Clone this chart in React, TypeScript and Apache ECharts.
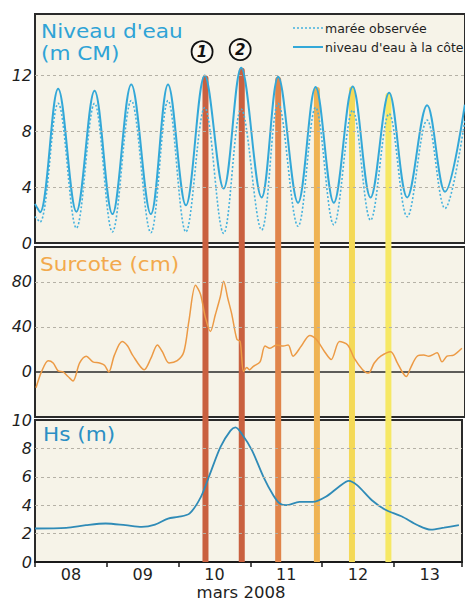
import React, { useEffect, useRef } from 'react';
import * as echarts from 'echarts';

// ---------- data (x in days since 08 March 2008 00:00) ----------
const DAY_LABELS = ['08', '09', '10', '11', '12', '13'];
const X_TITLE = 'mars 2008';

const TIDE_DAYS = [0, 0.069, 0.32, 0.573, 0.824, 1.071, 1.332, 1.603, 1.841, 2.088, 2.349, 2.61, 2.853, 3.136, 3.365, 3.64, 3.883, 4.135, 4.396, 4.643, 4.9, 5.151, 5.426, 5.673, 5.948];
const COAST_LEVEL = [2.8, 2.2, 11.05, 2.24, 10.9, 2.07, 11.36, 2.07, 11.36, 2.7, 12.0, 3.9, 12.55, 3.26, 11.9, 2.88, 11.17, 2.88, 11.2, 3.26, 10.76, 3.26, 9.86, 3.67, 9.9];
const OBSERVED_TIDE = [1.9, 1.5, 10.0, 1.07, 10.0, 0.8, 10.2, 0.74, 10.2, 0.8, 9.7, 0.69, 9.6, 0.93, 10.0, 1.2, 9.7, 1.3, 9.5, 1.64, 9.26, 1.88, 8.8, 2.48, 8.8];

const SURGE_DAYS = [0.014, 0.092, 0.183, 0.251, 0.32, 0.389, 0.457, 0.526, 0.618, 0.71, 0.801, 0.893, 0.962, 1.021, 1.099, 1.205, 1.282, 1.35, 1.511, 1.603, 1.694, 1.762, 1.854, 1.968, 2.06, 2.129, 2.221, 2.29, 2.359, 2.427, 2.496, 2.565, 2.61, 2.669, 2.724, 2.793, 2.839, 2.885, 2.93, 2.967, 3.022, 3.114, 3.183, 3.251, 3.342, 3.434, 3.503, 3.571, 3.685, 3.801, 3.891, 4.007, 4.098, 4.213, 4.327, 4.419, 4.533, 4.615, 4.694, 4.784, 4.922, 5.014, 5.082, 5.137, 5.196, 5.288, 5.38, 5.449, 5.563, 5.632, 5.701, 5.793, 5.907];
const SURGE_CM = [-14, 0.5, 10, 8, 1, 0, -4, -8, 8, 14, 9, 8, 6, 0, 15, 27, 23, 15, 2, 12, 24, 18, 8, 10, 18, 45, 77, 69, 48, 36, 51, 67, 80.5, 65, 51, 29, 27, 0.5, 4, 2, 5, 9, 23, 21, 24, 23, 24, 14, 23, 32.5, 29, 18, 11, 27, 24, 12, 2, -1, 8, 14, 18, 8, 0, -4, 3.5, 14, 15, 14, 17, 9, 14, 15, 21];

const HS_DAYS = [0, 0.435, 0.71, 0.985, 1.26, 1.488, 1.672, 1.854, 1.992, 2.152, 2.312, 2.449, 2.587, 2.724, 2.793, 2.885, 3.022, 3.183, 3.32, 3.411, 3.503, 3.685, 3.87, 4.052, 4.235, 4.372, 4.488, 4.694, 4.876, 5.106, 5.334, 5.518, 5.701, 5.907];
const HS_M = [2.36, 2.4, 2.59, 2.71, 2.59, 2.47, 2.63, 3.06, 3.18, 3.41, 4.59, 6.35, 8.12, 9.25, 9.48, 9.0, 7.88, 6.0, 4.7, 4.12, 4.0, 4.23, 4.23, 4.59, 5.3, 5.72, 5.41, 4.35, 3.7, 3.22, 2.59, 2.28, 2.42, 2.59];

const STORM_DAYS = [2.359, 2.861, 3.365, 3.901, 4.386, 4.89];
const STORM_PEAK = [12.0, 12.55, 11.9, 11.17, 11.2, 10.76];
const STORM_COLORS = ['#c9603f', '#c9603f', '#e0844a', '#efb353', '#f4d957', '#f6e865'];

const MARKER_DAYS = [2.312, 2.839];
const MARKER_LEVEL = [13.7, 13.85];
const MARKER_LABELS = ['1', '2'];

const TOP_TICKS = [0, 4, 8, 12];
const MID_TICKS = [0, 40, 80];
const BOT_TICKS = [0, 2, 4, 6, 8, 10];
const TOP_GRID = [4, 8, 12];
const MID_GRID = [40, 80];
const BOT_GRID = [2, 4, 6, 8];

const TITLE_TIDE = ["Niveau d'eau", '(m CM)'];
const TITLE_SURGE = 'Surcote (cm)';
const TITLE_HS = 'Hs (m)';
const NAME_OBS = 'marée observée';
const NAME_COAST = "niveau d'eau à la côte";

// ---------- layout ----------
const W = 465;
const H = 601;
const LEFT = 35;
const RIGHT = -3;
const GRIDS = [
  { top: 14, height: 229 },
  { top: 247, height: 170 },
  { top: 420, height: 142 },
];
const XMAX = 5.95;
const FONT = "'DejaVu Sans', sans-serif";
const PANEL_BG = '#f6f3e8';
const INK = '#1e1e1e';
const OBS_COLOR = '#45b2de';
const COAST_COLOR = '#33a8d8';

const pair = (xs: number[], ys: number[]) => xs.map((x, i) => [x, ys[i]]);

function gridLineSeries(idx: number, values: number[]) {
  return {
    type: 'line',
    xAxisIndex: idx,
    yAxisIndex: idx,
    data: [],
    z: 1,
    silent: true,
    markLine: {
      symbol: ['none', 'none'],
      silent: true,
      label: { show: false },
      lineStyle: { type: [3, 3], color: '#b5b1a6', width: 1 },
      data: values.map((v) => ({ yAxis: v })),
    },
  };
}

function buildOption() {
  const yLabel = (ticks: number[]) => ({
    margin: 3,
    fontFamily: FONT,
    fontSize: 16,
    fontStyle: 'italic',
    color: INK,
    formatter: (v: number) => (ticks.indexOf(v) >= 0 ? String(v) : ''),
  });
  const hiddenX = (idx: number, extra: any = {}) => ({
    type: 'value',
    gridIndex: idx,
    position: 'bottom',
    min: 0,
    max: XMAX,
    axisLine: { show: false },
    axisTick: { show: false },
    axisLabel: { show: false },
    splitLine: { show: false },
    ...extra,
  });
  const bottomY = GRIDS[2].top + GRIDS[2].height;

  return {
    animation: false,
    backgroundColor: '#ffffff',
    grid: GRIDS.map((g) => ({
      left: LEFT,
      right: RIGHT,
      top: g.top,
      height: g.height,
      show: true,
      backgroundColor: PANEL_BG,
      borderColor: '#2a2a2a',
      borderWidth: 2,
    })),
    xAxis: [
      hiddenX(0),
      hiddenX(1, { axisLine: { show: true, onZero: true, lineStyle: { color: '#2a2a2a', width: 1.5 } } }),
      hiddenX(2, {
        interval: 1,
        axisLine: { show: true, onZero: false, lineStyle: { color: '#1a1a1a', width: 2 } },
        axisTick: { show: true, inside: false, length: 5, lineStyle: { color: '#1a1a1a', width: 1.5 } },
      }),
      hiddenX(2, {
        interval: 0.5,
        axisLabel: {
          show: true,
          margin: 4,
          fontFamily: FONT,
          fontSize: 16,
          color: INK,
          showMinLabel: true,
          showMaxLabel: true,
          formatter: (v: number) => {
            const f = Math.floor(v);
            return Math.abs(v - f - 0.5) < 1e-6 && DAY_LABELS[f] ? DAY_LABELS[f] : '';
          },
        },
      }),
    ],
    yAxis: [
      {
        type: 'value', gridIndex: 0, min: 0, max: 16.4, interval: 4,
        axisLine: { show: true, lineStyle: { color: '#2a2a2a', width: 2 } },
        axisTick: { show: false }, splitLine: { show: false },
        axisLabel: yLabel(TOP_TICKS),
      },
      {
        type: 'value', gridIndex: 1, min: -40, max: 111, interval: 40,
        axisLine: { show: true, lineStyle: { color: '#2a2a2a', width: 2 } },
        axisTick: { show: false }, splitLine: { show: false },
        axisLabel: yLabel(MID_TICKS),
      },
      {
        type: 'value', gridIndex: 2, min: 0, max: 10, interval: 2,
        axisLine: { show: true, lineStyle: { color: '#2a2a2a', width: 2 } },
        axisTick: { show: false }, splitLine: { show: false },
        axisLabel: yLabel(BOT_TICKS),
      },
    ],
    series: [
      gridLineSeries(0, TOP_GRID),
      gridLineSeries(1, MID_GRID),
      gridLineSeries(2, BOT_GRID),
      {
        type: 'custom',
        xAxisIndex: 0,
        yAxisIndex: 0,
        z: 2,
        silent: true,
        clip: false,
        data: STORM_DAYS.map((d, i) => [d, STORM_PEAK[i], i]),
        renderItem: (_params: any, api: any) => {
          const top = api.coord([api.value(0), api.value(1)]);
          const w = 6;
          return {
            type: 'rect',
            shape: { x: top[0] - w / 2, y: top[1], width: w, height: bottomY - top[1], r: [3, 3, 0, 0] },
            style: { fill: STORM_COLORS[api.value(2)] },
          };
        },
      },
      {
        name: NAME_OBS,
        type: 'line',
        xAxisIndex: 0,
        yAxisIndex: 0,
        z: 3,
        smooth: 0.36,
        symbol: 'none',
        lineStyle: { color: OBS_COLOR, width: 1.6, type: [2, 2] },
        data: pair(TIDE_DAYS, OBSERVED_TIDE),
      },
      {
        name: NAME_COAST,
        type: 'line',
        xAxisIndex: 0,
        yAxisIndex: 0,
        z: 4,
        smooth: 0.36,
        symbol: 'none',
        lineStyle: { color: COAST_COLOR, width: 2 },
        data: pair(TIDE_DAYS, COAST_LEVEL),
      },
      {
        type: 'scatter',
        xAxisIndex: 0,
        yAxisIndex: 0,
        z: 5,
        silent: true,
        symbol: 'circle',
        symbolSize: 21,
        itemStyle: { color: '#faf8f1', borderColor: '#111', borderWidth: 1.8, opacity: 1 },
        label: {
          show: true,
          position: 'inside',
          fontFamily: FONT,
          fontSize: 15,
          fontStyle: 'italic',
          fontWeight: 'bold',
          color: '#111',
          formatter: (p: any) => MARKER_LABELS[p.dataIndex],
        },
        data: pair(MARKER_DAYS, MARKER_LEVEL),
      },
      {
        type: 'line',
        xAxisIndex: 1,
        yAxisIndex: 1,
        z: 3,
        smooth: 0.3,
        symbol: 'none',
        lineStyle: { color: '#ec9a45', width: 1.5 },
        data: pair(SURGE_DAYS, SURGE_CM),
      },
      {
        type: 'line',
        xAxisIndex: 2,
        yAxisIndex: 2,
        z: 3,
        smooth: 0.3,
        symbol: 'none',
        lineStyle: { color: '#2f8bb7', width: 1.8 },
        data: pair(HS_DAYS, HS_M),
      },
    ],
    graphic: [
      { type: 'text', x: 41, y: 31, scaleX: 1.08, z: 10, style: { text: TITLE_TIDE[0], font: `20px ${FONT}`, fill: '#2fa3d6', textVerticalAlign: 'middle' } },
      { type: 'text', x: 41, y: 53, scaleX: 1.08, z: 10, style: { text: TITLE_TIDE[1], font: `20px ${FONT}`, fill: '#2fa3d6', textVerticalAlign: 'middle' } },
      { type: 'text', x: 40, y: 264, scaleX: 1.08, z: 10, style: { text: TITLE_SURGE, font: `20px ${FONT}`, fill: '#f2a94c', textVerticalAlign: 'middle' } },
      { type: 'text', x: 43, y: 434, scaleX: 1.08, z: 10, style: { text: TITLE_HS, font: `20px ${FONT}`, fill: '#2b8fc4', textVerticalAlign: 'middle' } },
      { type: 'text', x: 241, y: 592.5, z: 10, style: { text: X_TITLE, font: `16.5px ${FONT}`, fill: INK, textAlign: 'center', textVerticalAlign: 'middle' } },
      // legend
      { type: 'line', z: 10, shape: { x1: 293, y1: 28, x2: 323, y2: 28 }, style: { stroke: OBS_COLOR, lineWidth: 1.6, lineDash: [2, 2] } },
      { type: 'text', x: 325, y: 28, z: 10, style: { text: NAME_OBS, font: `12.5px ${FONT}`, fill: INK, textVerticalAlign: 'middle' } },
      { type: 'line', z: 10, shape: { x1: 293, y1: 47, x2: 323, y2: 47 }, style: { stroke: COAST_COLOR, lineWidth: 2 } },
      { type: 'text', x: 325, y: 47, z: 10, style: { text: NAME_COAST, font: `12.5px ${FONT}`, fill: INK, textVerticalAlign: 'middle' } },
    ],
  };
}

export default function App() {
  const ref = useRef<HTMLDivElement>(null);
  useEffect(() => {
    if (!ref.current) return;
    const chart = echarts.init(ref.current, undefined, { renderer: 'svg' });
    chart.setOption(buildOption() as any);
    return () => chart.dispose();
  }, []);
  return (
    <div
      ref={ref}
      style={{ position: 'fixed', left: 0, top: 0, width: W, height: H, background: '#fff' }}
    />
  );
}
